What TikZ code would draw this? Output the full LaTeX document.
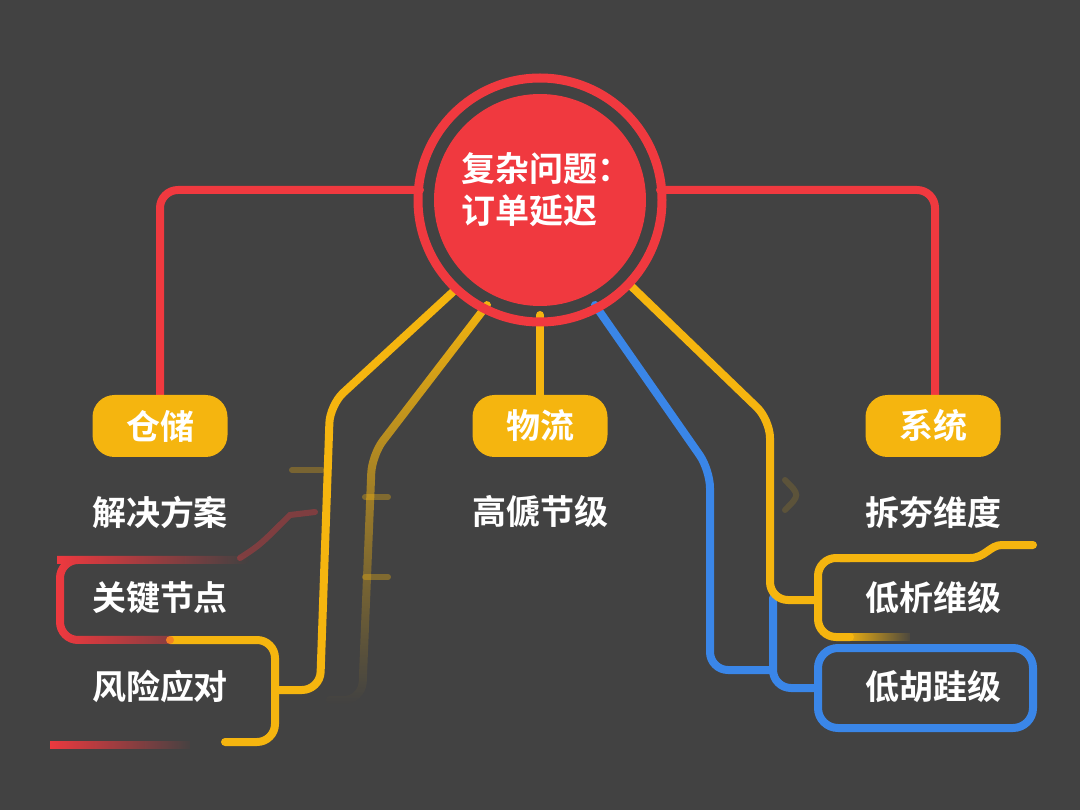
\documentclass[tikz,border=0pt]{standalone}
\usepackage{fontspec}
\setmainfont{Noto Sans CJK SC}[BoldFont={* Bold}]
\usetikzlibrary{fadings}
\definecolor{bg}{HTML}{424242}
\definecolor{rd}{HTML}{F0393F}
\definecolor{yl}{HTML}{F5B50F}
\definecolor{bl}{HTML}{3A86E8}
\tikzset{
 ln/.style={line width=8pt,line cap=round,rounded corners=18pt},
 pill/.style={fill=yl,rounded corners=22pt,minimum width=135pt,minimum height=62pt,text=white,font=\bfseries\fontsize{34}{34}\selectfont},
 lbl/.style={text=white,font=\bfseries\fontsize{34}{34}\selectfont},
}
\begin{document}
\begin{tikzpicture}[x=1pt,y=-1pt]
\fill[bg] (0,0) rectangle (1080,810);
\useasboundingbox (0,0) rectangle (1080,810);
% red branches
\draw[ln,rd] (420,190) -- (160,190) -- (160,400);
\draw[ln,rd] (660,190) -- (935,190) -- (935,400);
% yellow 1
\draw[ln,yl] (455,290) -- (330,405) -- (320,690) -- (275,690);
\draw[ln,yl] (170,640) -- (275,640) -- (275,742) -- (225,742);
% yellow 2
\draw[ln,yl,path fading=south] (487,305) -- (372,455) -- (362,700) -- (330,700);
% faint marks
\draw[line width=6pt,yl,opacity=0.3,line cap=round] (292,470) -- (322,470);
\draw[line width=6pt,yl,opacity=0.35,line cap=round] (365,497) -- (388,497);
\draw[line width=6pt,yl,opacity=0.35,line cap=round] (365,577) -- (388,577);
\draw[line width=6pt,yl,opacity=0.15,line cap=round] (785,480) .. controls (800,495) .. (785,510);
% center yellow
\draw[ln,yl] (540,315) -- (540,398);
% red bracket left
\draw[ln,rd,path fading=east] (245,560) -- (75,560) -- (60,560) -- (60,640) -- (170,640);
\draw[line width=6pt,rd,opacity=0.35,line cap=round] (240,558) .. controls (260,545) .. (290,515) -- (315,512);
\draw[line width=8pt,rd,path fading=east] (50,745) -- (190,745);
% blue
\draw[ln,bl] (595,305) -- (710,470) -- (710,670) -- (770,670);
\draw[ln,bl] (773,598) -- (773,688) -- (815,688);
\draw[line width=8pt,bl,rounded corners=20pt] (818,648) rectangle (1033,728);
% yellow right
\draw[ln,yl] (630,285) -- (770,420) -- (770,600) -- (815,600);
\draw[line width=8pt,yl,line cap=round] (1033,545) -- (1002,545) .. controls (990,545) and (985,558) .. (970,558) -- (840,558);
\draw[ln,yl] (850,558) -- (818,558) -- (818,637) -- (850,637);
\draw[line width=8pt,yl,path fading=east] (848,637) -- (910,637);
% center circle
\draw[rd,line width=9pt] (540,200) circle (122);
\fill[rd] (540,200) circle (106);
\node[text=white,font=\bfseries\fontsize{34}{42}\selectfont,align=left] (c) at (546,190) {复杂问题：\\订单延迟};
% pills
\node[pill] (a) at (160,426) {仓储};
\node[pill] (b) at (540,426) {物流};
\node[pill] (s) at (933,426) {系统};
\node[lbl] (a1) at (160,512) {解决方案};
\node[lbl] (a2) at (160,598) {关键节点};
\node[lbl] (a3) at (160,687) {风险应对};
\node[lbl] (b1) at (540,512) {高傂节级};
\node[lbl] (s1) at (933,512) {拆夯维度};
\node[lbl] (s2) at (933,598) {低析维级};
\node[lbl] (s3) at (933,687) {低胡跬级};
\end{tikzpicture}
\end{document}
